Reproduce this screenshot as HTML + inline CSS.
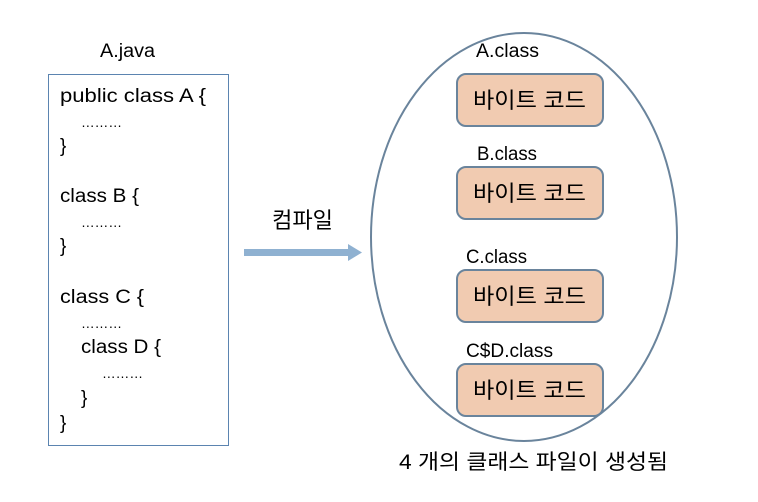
<!DOCTYPE html>
<html><head><meta charset="utf-8"><style>
html,body{margin:0;padding:0;background:#fff;width:758px;height:502px;overflow:hidden}
svg text{font-family:"Liberation Sans","Noto Sans CJK KR","NanumGothic",sans-serif;fill:#000}
</style></head><body>
<svg width="758" height="502" xmlns="http://www.w3.org/2000/svg">
<text x="100" y="57" font-size="19" textLength="55" lengthAdjust="spacingAndGlyphs">A.java</text>
<rect x="48.5" y="74.5" width="180" height="371" fill="#fff" stroke="#5b84b0" stroke-width="1"/>
<g font-size="19">
<text x="60" y="102" textLength="146" lengthAdjust="spacingAndGlyphs">public class A {</text>
<text x="81" y="127" font-size="14" textLength="41" lengthAdjust="spacingAndGlyphs">………</text>
<text x="60" y="152">}</text>
<text x="60" y="202" textLength="79" lengthAdjust="spacingAndGlyphs">class B {</text>
<text x="81" y="227" font-size="14" textLength="41" lengthAdjust="spacingAndGlyphs">………</text>
<text x="60" y="252">}</text>
<text x="60" y="303" textLength="84" lengthAdjust="spacingAndGlyphs">class C {</text>
<text x="81" y="328" font-size="14" textLength="41" lengthAdjust="spacingAndGlyphs">………</text>
<text x="81" y="353" textLength="80" lengthAdjust="spacingAndGlyphs">class D {</text>
<text x="102" y="378" font-size="14" textLength="41" lengthAdjust="spacingAndGlyphs">………</text>
<text x="81" y="404">}</text>
<text x="60" y="429">}</text>
</g>
<text x="272" y="228" font-size="22" textLength="61" lengthAdjust="spacingAndGlyphs">컴파일</text>
<rect x="244" y="249" width="106" height="7" fill="#8fb1d1"/>
<polygon points="348,244 362,252.5 348,261" fill="#8fb1d1"/>
<ellipse cx="524" cy="237" rx="153" ry="204" fill="none" stroke="#6a849c" stroke-width="2"/>
<g font-size="19">
<text x="476" y="57" textLength="63" lengthAdjust="spacingAndGlyphs">A.class</text>
<text x="477" y="160" textLength="60" lengthAdjust="spacingAndGlyphs">B.class</text>
<text x="466" y="263" textLength="61" lengthAdjust="spacingAndGlyphs">C.class</text>
<text x="466" y="357" textLength="87" lengthAdjust="spacingAndGlyphs">C$D.class</text>
</g>
<g fill="#f1cbb1" stroke="#6a849c" stroke-width="2">
<rect x="457" y="74" width="146" height="52" rx="9"/>
<rect x="457" y="167" width="146" height="52" rx="9"/>
<rect x="457" y="270" width="146" height="52" rx="9"/>
<rect x="457" y="364" width="146" height="52" rx="9"/>
</g>
<g font-size="22">
<text x="473" y="108" textLength="113" lengthAdjust="spacingAndGlyphs">바이트 코드</text>
<text x="473" y="201" textLength="113" lengthAdjust="spacingAndGlyphs">바이트 코드</text>
<text x="473" y="304" textLength="113" lengthAdjust="spacingAndGlyphs">바이트 코드</text>
<text x="473" y="398" textLength="113" lengthAdjust="spacingAndGlyphs">바이트 코드</text>
</g>
<text x="399" y="469" font-size="21" textLength="269" lengthAdjust="spacingAndGlyphs">4 개의 클래스 파일이 생성됨</text>
</svg>
</body></html>
